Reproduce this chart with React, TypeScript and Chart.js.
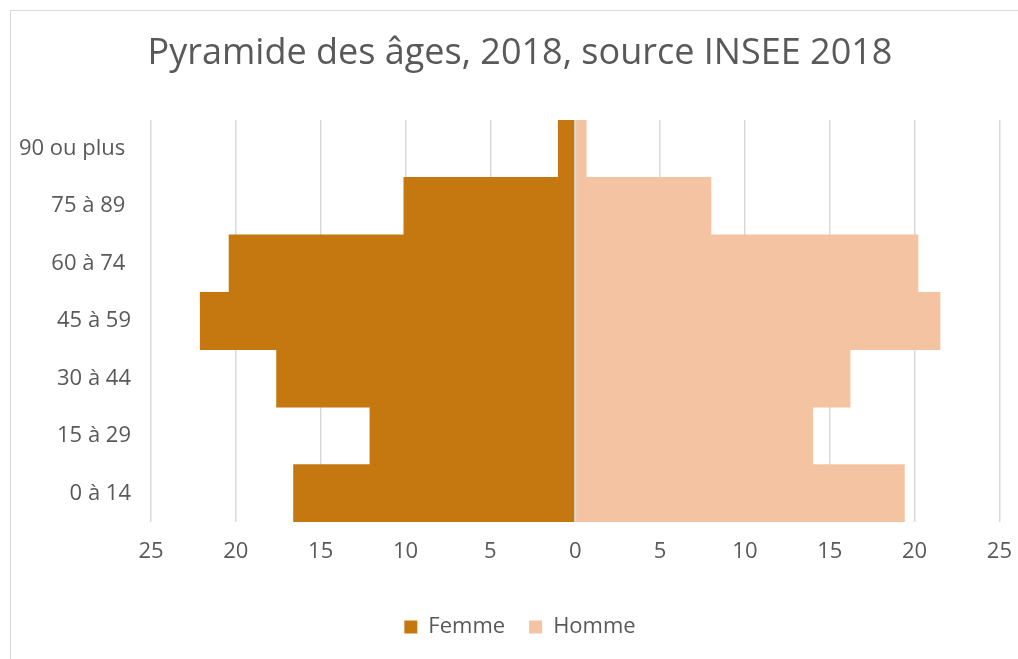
import React, { useEffect, useRef } from "react";
import { Chart, registerables } from "chart.js";

Chart.register(...registerables);

const categories = ["0 à 14", "15 à 29", "30 à 44", "45 à 59", "60 à 74 ", "75 à 89 ", "90 ou plus "];
const femme = [16.6, 12.1, 17.6, 22.1, 20.4, 10.1, 1.0];
const homme = [19.4, 14.0, 16.2, 21.5, 20.2, 8.0, 0.65];
const xTicksMin = -25;
const xTicksMax = 25;
const xStep = 5;
const titleText = "Pyramide des âges, 2018, source INSEE 2018";

const FONT = "'Open Sans', sans-serif";
const TEXT = "#595959";
const GRID = "#d9d9d9";

const zeroLine = {
  id: "zeroLine",
  afterDatasetsDraw(chart: any) {
    const x = chart.scales.x.getPixelForValue(0);
    const { top, bottom } = chart.chartArea;
    const ctx = chart.ctx;
    ctx.save();
    ctx.strokeStyle = GRID;
    ctx.lineWidth = 2;
    ctx.beginPath();
    ctx.moveTo(x, top);
    ctx.lineTo(x, bottom);
    ctx.stroke();
    ctx.restore();
  },
};

export default function App() {
  const ref = useRef<HTMLCanvasElement>(null);
  useEffect(() => {
    if (!ref.current) return;
    const chart = new Chart(ref.current, {
      type: "bar",
      data: {
        labels: categories,
        datasets: [
          {
            label: "Femme",
            data: femme.map((v) => -v),
            backgroundColor: "#C4780F",
            borderWidth: 0,
            barPercentage: 1,
            categoryPercentage: 1,
          },
          {
            label: "Homme",
            data: homme,
            backgroundColor: "#F4C3A2",
            borderWidth: 0,
            barPercentage: 1,
            categoryPercentage: 1,
          },
        ],
      },
      options: {
        indexAxis: "y",
        responsive: false,
        animation: false,
        layout: { padding: { left: 0, right: 0, top: 0, bottom: 11 } },
        scales: {
          x: {
            stacked: true,
            min: xTicksMin,
            max: xTicksMax,
            grid: { color: GRID, lineWidth: 1.5, drawTicks: false },
            border: { display: false },
            ticks: {
              stepSize: xStep,
              padding: 17,
              color: TEXT,
              font: { family: FONT, size: 22 },
              callback: (v: any) => String(Math.abs(Number(v))),
            },
            afterFit: (s: any) => {
              s.height = 70;
            },
          },
          y: {
            stacked: true,
            reverse: true,
            grid: { display: false, drawTicks: false },
            border: { display: false },
            ticks: {
              padding: 20,
              color: TEXT,
              font: { family: FONT, size: 22 },
            },
            afterFit: (s: any) => {
              s.width = 140;
            },
          },
          yRight: {
            type: "category",
            position: "right",
            grid: { display: false, drawTicks: false },
            border: { display: false },
            ticks: { display: false },
            afterFit: (s: any) => {
              s.width = 28;
            },
          },
        },
        plugins: {
          title: {
            display: true,
            text: titleText,
            color: TEXT,
            font: { family: FONT, size: 36, weight: "normal" },
            padding: { top: 21, bottom: 44.8 },
          },
          legend: {
            position: "bottom",
            labels: {
              color: TEXT,
              font: { family: FONT, size: 22 },
              boxWidth: 13,
              boxHeight: 13,
              padding: 24,
            },
          },
          tooltip: { enabled: false },
        },
      },
      plugins: [zeroLine],
    });
    return () => chart.destroy();
  }, []);

  return (
    <div style={{ position: "absolute", left: 0, top: 0, width: 1018, height: 659, overflow: "hidden", background: "#fff" }}>
      <div
        style={{
          position: "absolute",
          left: 10,
          top: 10,
          width: 1030,
          height: 670,
          border: `1px solid ${GRID}`,
          boxSizing: "border-box",
        }}
      >
        <canvas ref={ref} width={1018} height={648} style={{ position: "absolute", left: 0, top: 0 }} />
      </div>
    </div>
  );
}
